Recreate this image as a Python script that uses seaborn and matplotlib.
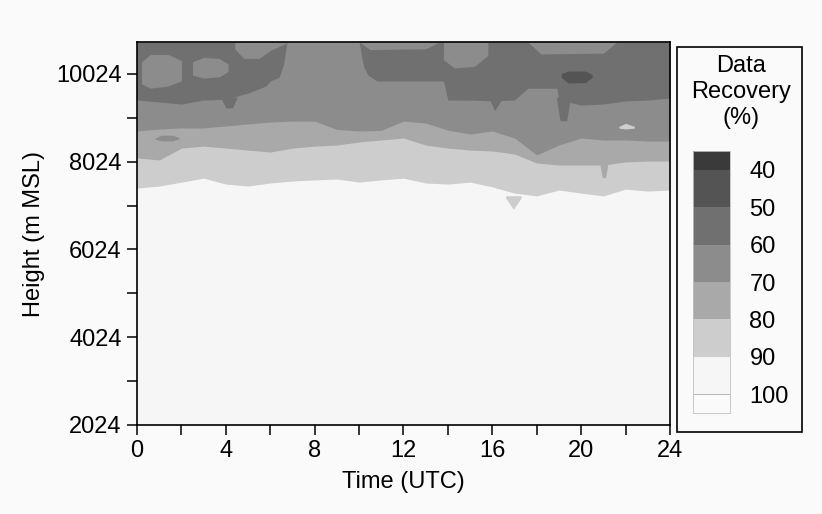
import numpy as np
import matplotlib
matplotlib.use("Agg")
import matplotlib.pyplot as plt
import matplotlib.colors as mcolors
import matplotlib.patches as mpatches
from matplotlib.cm import ScalarMappable
import seaborn as sns

# --- data -----------------------------------------------------------------
hours = [0, 1, 2, 3, 4, 5, 6, 7, 8, 9, 10, 11, 12,
         13, 14, 15, 16, 17, 18, 19, 20, 21, 22, 23, 24]

height_top = 10750

# height (m MSL) where recovery drops below 90, 80, 70 %
edge_90 = [7425, 7470, 7560, 7650, 7515, 7470, 7540, 7585, 7610, 7630, 7560, 7610, 7650,
           7540, 7515, 7560, 7450, 7310, 7245, 7380, 7310, 7245, 7400, 7355, 7380]
edge_80 = [8110, 8065, 8335, 8380, 8335, 8290, 8245, 8335, 8380, 8405, 8475, 8520, 8565,
           8405, 8335, 8290, 8270, 8200, 7995, 7950, 7950, 7950, 8020, 8040, 8040]
edge_70 = [8725, 8770, 8795, 8795, 8840, 8885, 8930, 8950, 8950, 8760, 8725, 8740, 8950,
           8905, 8745, 8655, 8725, 8565, 8180, 8405, 8565, 8520, 8520, 8495, 8495]

# lower edge of the 50-60 % region (top of plot where it is absent)
hours_60 = [0, 1, 2, 3, 4, 5, 5.8, 6.0, 6.4, 6.6, 6.75, 10.0, 10.2, 10.4, 10.8, 12, 13, 13.8,
            14, 15, 16, 17, 17.6, 18.9, 19, 20, 21, 22, 23, 24]
edge_60 = [9430, 9385, 9340, 9430, 9450, 9590, 9750, 9865, 9950, 10250, 10750, 10750, 10200,
           10000, 9865, 9865, 9865, 9865, 9430, 9430, 9410, 9430, 9700, 9700, 9430, 9315,
           9340, 9410, 9430, 9475]

# patches of 60-70 % inside the 50-60 % region
light1_t = [0.2, 0.6, 1.4, 2.0]
light1_lo = [9800, 9700, 9750, 9870]
light1_hi = [10300, 10470, 10470, 10330]
light2_t = [2.5, 3.0, 3.7, 4.1]
light2_lo = [10000, 9930, 9960, 10080]
light2_hi = [10300, 10400, 10380, 10250]
light3_t = [4.4, 4.8, 5.5, 6.0, 6.8]
light3_lo = [10600, 10380, 10380, 10560, 10750]
light4_t = [10.0, 10.5, 13.0, 13.6]
light4_lo = [10750, 10580, 10600, 10750]
light5_t = [13.8, 14.3, 15.2, 15.8]
light5_lo = [10350, 10160, 10200, 10450]
light6_t = [17.6, 18.2, 21.0, 21.6]
light6_lo = [10750, 10480, 10500, 10750]

# drips of 50-60 % below the dark region
drip1_t = [3.8, 4.0, 4.3, 4.5]
drip1_lo = [9450, 9250, 9250, 9480]
drip2_t = [18.9, 19.05, 19.35, 19.5]
drip2_lo = [9430, 8960, 8960, 9430]
drip3_t = [15.9, 16.1, 16.4]
drip3_lo = [9420, 9190, 9420]

# 40-50 % spot
spot_t = [19.1, 19.4, 20.2, 20.5]
spot_lo = [9950, 9820, 9830, 9950]
spot_hi = [10030, 10090, 10090, 10010]

# small features in the lower bands
blob70_t = [0.8, 1.1, 1.6, 1.9]
blob70_lo = [8540, 8500, 8500, 8550]
blob70_hi = [8560, 8630, 8630, 8570]
drip80_t = [20.85, 20.95, 21.1, 21.2]
drip80_lo = [7960, 7660, 7660, 7960]
blob90_t = [16.6, 16.95, 17.3]
blob90_lo = [7200, 6940, 7200]
fleck_t = [21.7, 22.0, 22.4]
fleck_lo = [8790, 8770, 8790]
fleck_hi = [8830, 8900, 8830]

cbar_bounds = [35, 40, 50, 60, 70, 80, 90, 100, 105]
cbar_ticks = [40, 50, 60, 70, 80, 90, 100]

# --- style ----------------------------------------------------------------
level_colors = ['#3a3a3a', '#545454', '#707070', '#8c8c8c',
                '#a9a9a9', '#cdcdcd', '#f6f6f6', '#fafafa']
c40, c50, c60, c70, c80, c90 = level_colors[1:7]

sns.set_theme(style="ticks")
plt.rcParams['font.family'] = ['Liberation Sans', 'DejaVu Sans']

fig = plt.figure(figsize=(8.22, 5.14), dpi=100, facecolor='#fafafa')
ax = fig.add_axes([0.1667, 0.1732, 0.6483, 0.7448])
ax.set_facecolor(c90)

# stacked bands, each filled up to the top so nothing leaves gaps
ax.fill_between(hours, edge_90, height_top, color=c80, lw=0)
ax.fill_between(hours, edge_80, height_top, color=c70, lw=0)
ax.fill_between(hours, edge_70, height_top, color=c60, lw=0)
ax.fill_between(hours_60, edge_60, height_top, color=c50, lw=0)

for t, lo, hi in [(light1_t, light1_lo, light1_hi), (light2_t, light2_lo, light2_hi),
                  (light3_t, light3_lo, height_top), (light4_t, light4_lo, height_top),
                  (light5_t, light5_lo, height_top), (light6_t, light6_lo, height_top)]:
    ax.fill_between(t, lo, hi, color=c60, lw=0)

for t, lo in [(drip1_t, drip1_lo), (drip2_t, drip2_lo), (drip3_t, drip3_lo)]:
    ax.fill_between(t, lo, 9500, color=c50, lw=0)

ax.fill_between(spot_t, spot_lo, spot_hi, color=c40, lw=0)
ax.fill_between(blob70_t, blob70_lo, blob70_hi, color=c60, lw=0)
ax.fill_between(drip80_t, drip80_lo, 8000, color=c70, lw=0)
ax.fill_between(blob90_t, blob90_lo, 7250, color=c80, lw=0)
ax.fill_between(fleck_t, fleck_lo, fleck_hi, color=c80, lw=0)

ax.set_xlim(0, 24)
ax.set_ylim(2024, height_top)
ax.set_xticks(range(0, 25, 4))
ax.set_xticks(range(0, 25, 2), minor=True)
ax.set_yticks(range(2024, 10025, 2000))
ax.set_yticks(range(3024, 10025, 2000), minor=True)
ax.tick_params(which='both', direction='out', length=7, width=1.1,
               color='black', labelcolor='black', labelsize=17, pad=4)
for s in ax.spines.values():
    s.set_visible(True)
    s.set_color('black')
    s.set_linewidth(1.2)

ax.set_xlabel('Time (UTC)', fontsize=17, color='black', labelpad=6)
ax.set_ylabel('Height (m MSL)', fontsize=17, color='black', labelpad=8)

# colour key
cax = fig.add_axes([693 / 822, 101 / 514, 37 / 822, 262 / 514])
cmap = mcolors.ListedColormap(level_colors)
norm = mcolors.BoundaryNorm(cbar_bounds, cmap.N)
cb = fig.colorbar(ScalarMappable(norm=norm, cmap=cmap), cax=cax,
                  ticks=cbar_ticks, spacing='proportional')
cax.invert_yaxis()
cax.minorticks_off()
cax.axhline(100, color='#b5b5b5', lw=0.7)
cb.outline.set_edgecolor('#c0c0c0')
cb.outline.set_linewidth(0.6)
cax.tick_params(which='both', length=0, labelsize=17, pad=14, labelcolor='black')

fig.add_artist(mpatches.Rectangle((0.8236, 0.1595), 0.152, 0.749,
                                  transform=fig.transFigure, fill=False,
                                  edgecolor='black', lw=1.2))
fig.text(0.901, 0.893, 'Data\nRecovery\n(%)', ha='center', va='top',
         fontsize=17, linespacing=1.25, color='black')

fig.savefig('out.png', dpi=100, facecolor=fig.get_facecolor())
